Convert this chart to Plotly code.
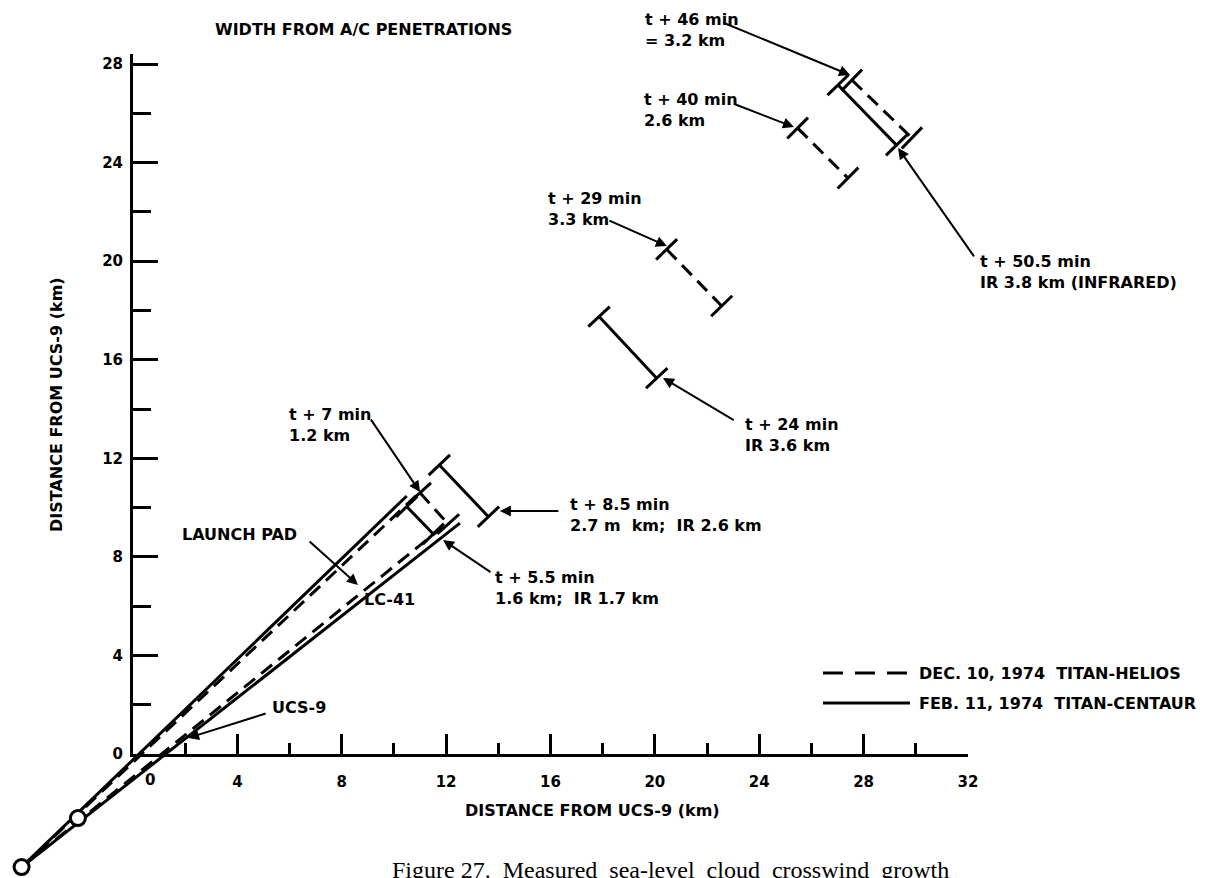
import math
import plotly.graph_objects as go

W, H = 1223, 878

# pixel frame of the printed axes
X0_PX, X32_PX = 133, 968
Y0_PX, Y28_PX, YTOP_PX = 754, 64, 54
SX = (X32_PX - X0_PX) / 32.0
SY = (Y0_PX - Y28_PX) / 28.0

FONT = "DejaVu Sans"
INK = "black"

# ---------------- data (km from UCS-9) ----------------
# launch site circles
site_x = [-4.27, -2.11]
site_y = [-4.59, -2.60]

# plume edges, Dec. 10, 1974 Titan-Helios (dashed)
helios_edge_x0 = [-4.27, -4.27]
helios_edge_y0 = [-4.59, -4.59]
helios_edge_x1 = [10.92, 11.96]
helios_edge_y1 = [10.55, 9.29]

# plume edges, Feb. 11, 1974 Titan-Centaur (solid)
centaur_edge_x0 = [-4.27, -4.27]
centaur_edge_y0 = [-4.59, -4.59]
centaur_edge_x1 = [10.49, 12.53]
centaur_edge_y1 = [10.47, 9.37]

# aircraft penetrations: cloud cross-sections
pen_time = ["t + 5.5 min", "t + 7 min", "t + 8.5 min", "t + 24 min",
            "t + 29 min", "t + 40 min", "t + 46 min", "t + 50.5 min"]
pen_width = ["1.6 km;\u00a0\u00a0IR 1.7 km", "1.2 km", "2.7 m\u00a0\u00a0km;\u00a0\u00a0IR 2.6 km",
             "IR 3.6 km", "3.3 km", "2.6 km", "= 3.2 km", "IR 3.8 km (INFRARED)"]
pen_launch = ["centaur", "helios", "centaur", "centaur",
              "helios", "helios", "helios", "centaur"]
pen_x0 = [10.49, 11.00, 11.74, 17.86, 20.45, 25.47, 27.55, 27.02]
pen_y0 = [10.04, 10.60, 11.73, 17.75, 20.48, 25.40, 27.35, 27.15]
pen_x1 = [11.51, 12.08, 13.62, 20.07, 22.56, 27.40, 29.85, 29.26]
pen_y1 = [8.93, 9.33, 9.63, 15.25, 18.18, 23.37, 25.00, 24.71]

# callout text anchors (left edge, middle) and arrows (tail -> head)
pen_label_x = [13.80, 5.90, 16.67, 23.38, 15.83, 19.51, 19.54, 32.38]
pen_label_y = [6.74, 13.35, 9.70, 12.94, 22.12, 26.13, 29.38, 19.56]
pen_arrow_x0 = [13.76, 9.08, 16.36, 23.08, 18.20, 23.03, 22.57, 32.27]
pen_arrow_y0 = [7.34, 13.63, 9.86, 13.51, 21.67, 26.38, 29.70, 20.13]
pen_arrow_x1 = [11.88, 11.00, 14.06, 20.31, 20.46, 25.33, 27.48, 29.32]
pen_arrow_y1 = [8.68, 10.63, 9.86, 15.26, 20.61, 25.44, 27.55, 24.59]

site_names = ["LAUNCH PAD", "LC-41", "UCS-9"]
site_label_x = [1.80, 8.78, 5.25]
site_label_y = [8.89, 6.25, 1.87]
site_arrow_x0 = [6.71, None, 5.14]
site_arrow_y0 = [8.68, None, 1.66]
site_arrow_x1 = [8.62, None, 2.11]
site_arrow_y1 = [6.86, None, 0.65]

x_ticks = [0, 4, 8, 12, 16, 20, 24, 28, 32]
x_minor = [2, 6, 10, 14, 18, 22, 26, 30]
y_ticks = [0, 4, 8, 12, 16, 20, 24, 28]
y_minor = [2, 6, 10, 14, 18, 22, 26]

legend_entries = ["DEC. 10, 1974\u00a0\u00a0TITAN-HELIOS", "FEB. 11, 1974\u00a0\u00a0TITAN-CENTAUR"]

DASH = {"helios": "14px,8px", "centaur": "solid"}

fig = go.Figure()


def edge_trace(x0s, y0s, x1s, y1s, dash):
    xs, ys = [], []
    for a, b, c, d in zip(x0s, y0s, x1s, y1s):
        xs += [a, c, None]
        ys += [b, d, None]
    return go.Scatter(x=xs, y=ys, mode="lines", hoverinfo="skip", showlegend=False,
                      line=dict(color=INK, width=3, dash=dash))


fig.add_trace(edge_trace(helios_edge_x0, helios_edge_y0, helios_edge_x1, helios_edge_y1, DASH["helios"]))
fig.add_trace(edge_trace(centaur_edge_x0, centaur_edge_y0, centaur_edge_x1, centaur_edge_y1, DASH["centaur"]))

# cross-sections with perpendicular end bars
for i in range(len(pen_time)):
    dxp = (pen_x1[i] - pen_x0[i]) * SX
    dyp = (pen_y0[i] - pen_y1[i]) * SY
    bar = math.degrees(math.atan2(dyp, dxp)) + 90
    fig.add_trace(go.Scatter(
        x=[pen_x0[i], pen_x1[i]], y=[pen_y0[i], pen_y1[i]],
        mode="lines+markers", hoverinfo="skip", showlegend=False,
        line=dict(color=INK, width=3, dash=DASH[pen_launch[i]]),
        marker=dict(symbol="line-ew", size=21, angle=bar,
                    line=dict(color=INK, width=3)),
    ))

fig.add_trace(go.Scatter(
    x=site_x, y=site_y, mode="markers", hoverinfo="skip", showlegend=False,
    marker=dict(symbol="circle", size=15, color="white", line=dict(color=INK, width=3)),
))

# the printed axes live on their own subplot framed over the 0..32 km window
fig.add_trace(go.Scatter(x=[None], y=[None], xaxis="x2", yaxis="y2", mode="markers",
                         hoverinfo="skip", showlegend=False))

label_font = dict(family=FONT, size=16, color=INK, weight="bold")
annotations = []

for i in range(len(pen_time)):
    annotations.append(dict(
        x=pen_label_x[i], y=pen_label_y[i], xref="x", yref="y",
        text=pen_time[i] + "<br>" + pen_width[i], showarrow=False,
        xanchor="left", yanchor="middle", align="left", font=label_font))
    annotations.append(dict(
        x=pen_arrow_x1[i], y=pen_arrow_y1[i], ax=pen_arrow_x0[i], ay=pen_arrow_y0[i],
        xref="x", yref="y", axref="x", ayref="y", text="", showarrow=True,
        arrowhead=2, arrowsize=1.1, arrowwidth=2, arrowcolor=INK, standoff=0))

for i in range(len(site_names)):
    annotations.append(dict(
        x=site_label_x[i], y=site_label_y[i], xref="x", yref="y",
        text=site_names[i], showarrow=False,
        xanchor="left", yanchor="middle", align="left", font=label_font))
    if site_arrow_x0[i] is not None:
        annotations.append(dict(
            x=site_arrow_x1[i], y=site_arrow_y1[i], ax=site_arrow_x0[i], ay=site_arrow_y0[i],
            xref="x", yref="y", axref="x", ayref="y", text="", showarrow=True,
            arrowhead=2, arrowsize=1.1, arrowwidth=2, arrowcolor=INK, standoff=0))

# x-axis origin label sits just right of the y axis
annotations.append(dict(x=(150 - X0_PX) / SX, y=(Y0_PX - 780) / SY, xref="x", yref="y",
                        text="0", showarrow=False, xanchor="center", yanchor="middle",
                        font=dict(family=FONT, size=15, color=INK, weight="bold")))

# headings and axis titles
annotations += [
    dict(x=213 / W, y=1 - 30 / H, xref="paper", yref="paper", text="WIDTH FROM A/C PENETRATIONS",
         showarrow=False, xanchor="left", yanchor="middle", font=label_font),
    dict(x=592 / W, y=1 - 810 / H, xref="paper", yref="paper", text="DISTANCE FROM UCS-9 (km)",
         showarrow=False, xanchor="center", yanchor="middle", font=label_font),
    dict(x=57 / W, y=1 - 405 / H, xref="paper", yref="paper", text="DISTANCE FROM UCS-9 (km)",
         showarrow=False, xanchor="center", yanchor="middle", textangle=-90, font=label_font),
    dict(x=390 / W, y=1 - 870 / H, xref="paper", yref="paper",
         text="Figure 27.\u00a0\u00a0Measured\u00a0\u00a0sea-level\u00a0\u00a0cloud\u00a0\u00a0crosswind\u00a0\u00a0growth",
         showarrow=False, xanchor="left", yanchor="middle",
         font=dict(family="Liberation Serif", size=24, color=INK)),
]

# legend key
shapes = []
for k, (name, dash) in enumerate(zip(legend_entries, ["helios", "centaur"])):
    ypx = 673 + 30 * k
    shapes.append(dict(type="line", xref="paper", yref="paper",
                       x0=823 / W, x1=910 / W, y0=1 - ypx / H, y1=1 - ypx / H,
                       line=dict(color=INK, width=3, dash="20px,12px" if dash == "helios" else "solid")))
    annotations.append(dict(x=917 / W, y=1 - ypx / H, xref="paper", yref="paper", text=name,
                            showarrow=False, xanchor="left", yanchor="middle", font=label_font))

tick_font = dict(family=FONT, size=15, color=INK, weight="bold")

fig.update_layout(
    template="none",
    width=W, height=H, margin=dict(l=0, r=0, t=0, b=0, autoexpand=False),
    paper_bgcolor="white", plot_bgcolor="rgba(0,0,0,0)",
    showlegend=False,
    xaxis=dict(domain=[0, 1], range=[-X0_PX / SX, (W - X0_PX) / SX], visible=False,
               fixedrange=True, automargin=False),
    yaxis=dict(domain=[0, 1], range=[-(H - Y0_PX) / SY, Y0_PX / SY], visible=False,
               fixedrange=True, automargin=False),
    xaxis2=dict(domain=[X0_PX / W, X32_PX / W], range=[0, 32], anchor="y2", automargin=False,
                showline=True, linecolor=INK, linewidth=3, showgrid=False, zeroline=False,
                ticks="inside", ticklen=20, tickwidth=3, tickcolor=INK,
                tickvals=x_ticks, ticktext=["" if v == 0 else str(v) for v in x_ticks],
                tickfont=tick_font, ticklabelstandoff=12,
                minor=dict(tickvals=x_minor, ticks="inside", ticklen=11, tickwidth=3,
                           tickcolor=INK, showgrid=False),
                fixedrange=True),
    yaxis2=dict(domain=[(H - Y0_PX) / H, (H - YTOP_PX) / H], range=[0, (Y0_PX - YTOP_PX) / SY],
                anchor="x2", automargin=False, showline=True, linecolor=INK, linewidth=3,
                showgrid=False, zeroline=False, ticks="inside", ticklen=25, tickwidth=3,
                tickcolor=INK, tickvals=y_ticks, ticktext=[str(v) for v in y_ticks],
                tickfont=tick_font, ticklabelstandoff=4,
                minor=dict(tickvals=y_minor, ticks="inside", ticklen=18, tickwidth=3,
                           tickcolor=INK, showgrid=False),
                fixedrange=True),
    annotations=annotations,
    shapes=shapes,
)

fig.write_html("out.html")
